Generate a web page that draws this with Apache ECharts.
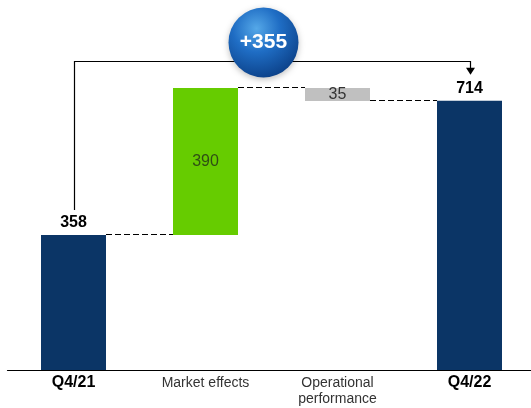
<!DOCTYPE html>
<html>
<head>
<meta charset="utf-8">
<style>
  html, body { margin: 0; padding: 0; background: #fff; }
  #chart { width: 531px; height: 408px; }
</style>
<script src="https://cdn.jsdelivr.net/npm/echarts@6/dist/echarts.min.js"></script>
</head>
<body>
<div id="chart"></div>
<script>
// Bridge from Q4/21 to Q4/22
const categories = ['Q4/21', 'Market effects', 'Operational\nperformance', 'Q4/22'];
const stepKinds = ['total', 'delta', 'delta', 'total'];
const stepValues = [358, 390, -35, 714];
const bridgeChange = '+355';

const colors = { total: '#0b3566', up: '#66cc00', down: '#c0c0c0' };

// running base for each floating bar
const bases = [];
const heights = [];
const levels = [];
let running = 0;
stepValues.forEach((v, i) => {
  if (stepKinds[i] === 'total') {
    bases.push(0); heights.push(v); running = v;
  } else if (v >= 0) {
    bases.push(running); heights.push(v); running += v;
  } else {
    running += v; bases.push(running); heights.push(-v);
  }
  levels.push(running);
});

const chart = echarts.init(document.getElementById('chart'));
const FONT = '"Liberation Sans", Arial, sans-serif';

chart.setOption({
  animation: false,
  textStyle: { fontFamily: FONT },
  grid: { left: 7.5, width: 528, top: 30.6, bottom: 38, containLabel: false, outerBoundsMode: 'none' },
  xAxis: {
    type: 'category',
    data: categories,
    axisLine: { lineStyle: { color: '#000', width: 1.2 } },
    axisTick: { show: false },
    axisLabel: {
      margin: 5,
      lineHeight: 16,
      formatter: (val, idx) => stepKinds[idx] === 'total' ? '{b|' + val + '}' : '{n|' + val + '}',
      rich: {
        b: { fontFamily: FONT, fontSize: 16, fontWeight: 'bold', color: '#000', lineHeight: 16 },
        n: { fontFamily: FONT, fontSize: 14, color: '#333', lineHeight: 16 }
      }
    }
  },
  yAxis: {
    type: 'value', min: 0, max: 900,
    show: false, splitLine: { show: false }
  },
  series: [
    {
      type: 'bar', stack: 'bridge', barWidth: 65,
      itemStyle: { color: 'transparent' },
      emphasis: { disabled: true },
      data: bases
    },
    {
      type: 'bar', stack: 'bridge', barWidth: 65,
      emphasis: { disabled: true },
      data: heights.map((h, i) => {
        const kind = stepKinds[i];
        const total = kind === 'total';
        const color = total ? colors.total : (stepValues[i] >= 0 ? colors.up : colors.down);
        return {
          value: h,
          itemStyle: { color },
          label: total
            ? { show: true, position: 'top', distance: 4, formatter: String(stepValues[i]),
                fontFamily: FONT, fontSize: 16, fontWeight: 'bold', color: '#000' }
            : { show: true, position: 'inside', formatter: String(Math.abs(stepValues[i])),
                fontFamily: FONT, fontSize: 16, color: stepValues[i] >= 0 ? '#2f4f14' : '#333' }
        };
      })
    }
  ]
});

// Connectors and the overall change callout, placed on the chart's own scales
function drawOverlay() {
  const px = (i, v) => chart.convertToPixel({ xAxisIndex: 0, yAxisIndex: 0 }, [i, v]);
  const crisp = y => Math.round(y) + 0.5;
  const half = 32.5;
  const elements = [];

  for (let i = 0; i < categories.length - 1; i++) {
    const a = px(i, levels[i]);
    const b = px(i + 1, levels[i]);
    const y = crisp(a[1]) - 1;
    elements.push({
      type: 'line',
      shape: { x1: a[0] + half, y1: y, x2: b[0] - half, y2: y },
      style: { stroke: '#000', lineWidth: 1, lineDash: [6, 3] },
      z: 10
    });
  }

  const first = px(0, stepValues[0]);
  const last = px(categories.length - 1, stepValues[stepValues.length - 1]);
  const x0 = crisp(first[0]);
  const x1 = crisp(last[0]);
  const topY = 61.5;
  const startY = first[1] - 25;
  const tipY = last[1] - 26;
  elements.push({
    type: 'polyline',
    shape: { points: [[x0, startY], [x0, topY], [x1, topY], [x1, tipY - 6]] },
    style: { stroke: '#000', lineWidth: 1.2, fill: null },
    z: 10
  });
  elements.push({
    type: 'polygon',
    shape: { points: [[x1 - 4.5, tipY - 7], [x1 + 4.5, tipY - 7], [x1, tipY]] },
    style: { fill: '#000' },
    z: 10
  });

  const cx = (first[0] + last[0]) / 2 - 8;
  const cy = topY - 19;
  elements.push({
    type: 'circle',
    shape: { cx, cy, r: 35 },
    style: {
      fill: new echarts.graphic.RadialGradient(0.4, 0.3, 0.75, [
        { offset: 0, color: '#55a8e8' },
        { offset: 0.45, color: '#1f6dc4' },
        { offset: 1, color: '#0b3f86' }
      ]),
      shadowBlur: 6, shadowColor: 'rgba(0,0,0,0.25)', shadowOffsetY: 2
    },
    z: 20
  });
  elements.push({
    type: 'text',
    x: cx, y: cy,
    style: {
      text: bridgeChange, fill: '#fff', font: 'bold 21px ' + FONT,
      align: 'center', verticalAlign: 'middle'
    },
    z: 21
  });

  chart.setOption({ graphic: { elements } });
}
drawOverlay();
</script>
</body>
</html>
